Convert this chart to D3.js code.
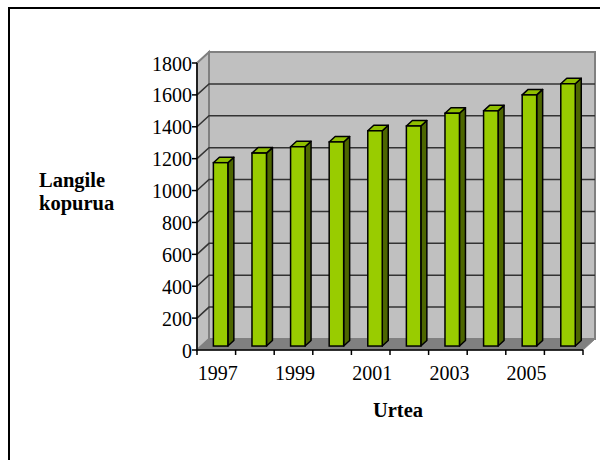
<!DOCTYPE html>
<html><head><meta charset="utf-8">
<script src="https://cdn.jsdelivr.net/npm/d3@7"></script>
<style>body{margin:0;background:#fff}svg{display:block}</style>
</head><body>
<svg id="c" width="600" height="460"></svg>
<script>
const years = ["1997","1998","1999","2000","2001","2002","2003","2004","2005","2006"];
const values = [1150,1210,1250,1280,1350,1380,1460,1475,1575,1645];
const yTicks = [0,200,400,600,800,1000,1200,1400,1600,1800];
const xLabels = ["1997","1999","2001","2003","2005"];
const yTitle = ["Langile","kopurua"];
const xTitle = "Urtea";

const svg = d3.select("#c");
const DX = 12, DY = -11;
const x = d3.scaleBand().domain(years).range([197,583]).paddingInner(0).paddingOuter(0);
const y = d3.scaleLinear().domain([0,1800]).range([350,63]);
const font = "'Liberation Serif','Times New Roman',serif";

// outer border
svg.append("rect").attr("x",9).attr("y",8).attr("width",640).attr("height",500)
  .attr("fill","#fff").attr("stroke","#000").attr("stroke-width",2);

const x0 = x.range()[0], x1 = x.range()[1];
const yb = y(0), yt = y(1800);
// back wall
svg.append("polygon")
  .attr("points",[[x0+DX,yb+DY],[x1+DX,yb+DY],[x1+DX,yt+DY],[x0+DX,yt+DY]].join(" "))
  .attr("fill","#c0c0c0").attr("stroke","#808080").attr("stroke-width",2);
// side wall
svg.append("polygon")
  .attr("points",[[x0,yb],[x0+DX,yb+DY],[x0+DX,yt+DY],[x0,yt]].join(" "))
  .attr("fill","#c0c0c0").attr("stroke","#808080").attr("stroke-width",2);
// gridlines
const grid = yTicks.filter(d=>d>0 && d<1800);
svg.append("g").selectAll("path").data(grid).join("path")
  .attr("d",d=>`M${x0},${y(d)}L${x0+DX},${y(d)+DY}L${x1+DX},${y(d)+DY}`)
  .attr("fill","none").attr("stroke","#333").attr("stroke-width",1.5);
// floor
svg.append("polygon")
  .attr("points",[[x0,yb],[x1,yb],[x1+DX,yb+DY],[x0+DX,yb+DY]].join(" "))
  .attr("fill","#808080").attr("stroke","#808080").attr("stroke-width",1);

// bars
const f0 = 0.36, fd = 0.5;
const bw = x.bandwidth()*0.375;
const gb = svg.append("g");
years.forEach((yr,i)=>{
  const v = values[i];
  const ox = f0*DX, oy = f0*DY;
  const sx = fd*DX, sy = fd*DY;
  const L = x(yr)+x.bandwidth()/2 - bw/2 + ox, R = L + bw;
  const B = y(0)+oy, T = y(v)+oy;
  gb.append("polygon").attr("points",[[R,B],[R+sx,B+sy],[R+sx,T+sy],[R,T]].join(" "))
    .attr("fill","#4d6600").attr("stroke","#000").attr("stroke-width",1.5).attr("stroke-linejoin","round");
  gb.append("polygon").attr("points",[[L,T],[R,T],[R+sx,T+sy],[L+sx,T+sy]].join(" "))
    .attr("fill","#8fbf00").attr("stroke","#000").attr("stroke-width",1.5).attr("stroke-linejoin","round");
  gb.append("rect").attr("x",L).attr("y",T).attr("width",bw).attr("height",B-T)
    .attr("fill","#99cc00").attr("stroke","#000").attr("stroke-width",1.5);
});

// axes
const ax = svg.append("g");
ax.append("line").attr("x1",x0).attr("x2",x0).attr("y1",yt).attr("y2",yb).attr("stroke","#000").attr("stroke-width",1.5);
ax.append("line").attr("x1",x0).attr("x2",x1).attr("y1",yb).attr("y2",yb).attr("stroke","#000").attr("stroke-width",1.5);
ax.selectAll(".yt").data(yTicks).join("line")
  .attr("x1",x0-5).attr("x2",x0).attr("y1",d=>y(d)).attr("y2",d=>y(d)).attr("stroke","#000").attr("stroke-width",1.5);
ax.selectAll(".ytl").data(yTicks).join("text")
  .attr("x",192).attr("y",d=>y(d)+7.5)
  .attr("text-anchor","end").attr("font-family",font).attr("font-size",20).attr("fill","#000")
  .text(d=>d);
const bounds = years.map(d=>x(d)).concat([x1]);
ax.selectAll(".xt").data(bounds).join("line")
  .attr("x1",d=>d).attr("x2",d=>d).attr("y1",yb).attr("y2",yb+5).attr("stroke","#000").attr("stroke-width",1.5);
ax.selectAll(".xtl").data(xLabels).join("text")
  .attr("x",d=>x(d)+x.bandwidth()/2+1.5).attr("y",380)
  .attr("text-anchor","middle").attr("font-family",font).attr("font-size",20).attr("fill","#000")
  .text(d=>d);

// titles
svg.selectAll(".ytt").data(yTitle).join("text")
  .attr("x",39).attr("y",(d,i)=>187+i*23)
  .attr("font-family",font).attr("font-weight","bold").attr("font-size",20.5).attr("fill","#000")
  .text(d=>d);
svg.append("text").attr("x",398).attr("y",417)
  .attr("text-anchor","middle").attr("font-family",font).attr("font-weight","bold").attr("font-size",20.5).attr("fill","#000")
  .text(xTitle);
</script>
</body></html>
